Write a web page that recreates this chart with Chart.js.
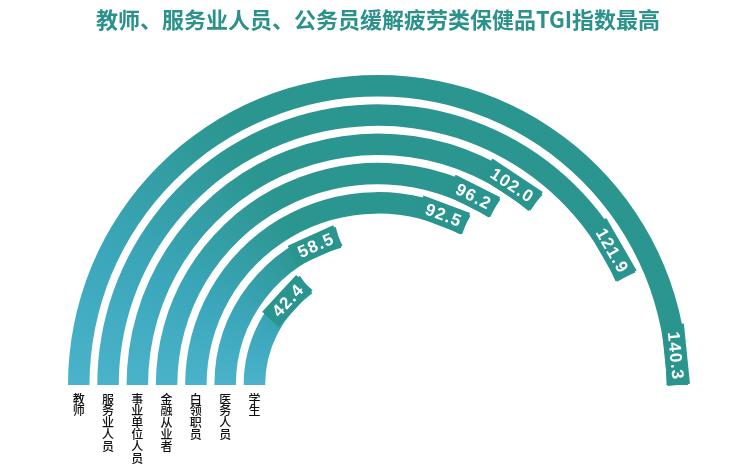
<!DOCTYPE html>
<html lang="zh">
<head>
    <meta charset="UTF-8">
    <title>TGI指数</title>
    <script src="https://cdn.jsdelivr.net/npm/chart.js@4.4.0/dist/chart.umd.min.js"></script>
    <style>
        body {
            margin: 0;
            background: #ffffff;
        }
        .wrap {
            width: 750px;
            height: 468px;
            position: relative;
        }
    </style>
</head>
<body>
    <div class="wrap">
        <canvas id="tgiChart"></canvas>
    </div>

    <script>
        // 数据
        const categories = ['教师', '服务业人员', '事业单位人员', '金融从业者', '白领职员', '医务人员', '学生'];
        const tgiValues = [140.3, 121.9, 102.0, 96.2, 92.5, 58.5, 42.4];
        const titleText = '教师、服务业人员、公务员缓解疲劳类保健品TGI指数最高';

        const scaleMax = Math.max(...tgiValues);
        const ringWeight = 21.5;
        const gapWeight = 7.8;
        const labelColor = '#2a948e';

        // 按角度渐变：左端偏蓝，向上过渡为青绿
        function ringColor(context) {
            if (context.dataIndex !== 0) return 'rgba(0,0,0,0)';
            const chart = context.chart;
            const area = chart.chartArea;
            if (!area) return labelColor;
            const cx = (area.left + area.right) / 2;
            const cy = area.bottom;
            const g = chart.ctx.createConicGradient(Math.PI, cx, cy);
            g.addColorStop(0, '#4ab3cb');
            g.addColorStop(0.07, '#3ca7bb');
            g.addColorStop(0.17, '#2b958f');
            g.addColorStop(1, '#2b948e');
            return g;
        }

        const datasets = [];
        tgiValues.forEach((v, i) => {
            datasets.push({
                label: categories[i],
                data: [v, scaleMax - v],
                backgroundColor: ringColor,
                borderWidth: 0,
                weight: ringWeight,
                isRing: true
            });
            if (i < tgiValues.length - 1) {
                datasets.push({
                    label: '',
                    data: [scaleMax],
                    backgroundColor: 'rgba(0,0,0,0)',
                    borderWidth: 0,
                    weight: gapWeight
                });
            }
        });

        // 数值标签和类别标签
        const ringLabels = {
            id: 'ringLabels',
            afterDatasetsDraw(chart) {
                const ctx = chart.ctx;
                chart.data.datasets.forEach((ds, di) => {
                    if (!ds.isRing) return;
                    const arc = chart.getDatasetMeta(di).data[0];
                    const p = arc.getProps(['x', 'y', 'startAngle', 'endAngle', 'innerRadius', 'outerRadius'], true);
                    const r = (p.innerRadius + p.outerRadius) / 2;
                    const w = p.outerRadius - p.innerRadius + 1;

                    ctx.save();
                    ctx.font = 'bold 17px "Liberation Sans", Arial, sans-serif';
                    ctx.letterSpacing = '1.2px';
                    const txt = ds.data[0].toFixed(1);
                    const tw = ctx.measureText(txt).width;
                    const L = tw + 12;
                    const mid = p.endAngle - (L / 2) / r;
                    ctx.translate(p.x + r * Math.cos(mid), p.y + r * Math.sin(mid));
                    ctx.rotate(mid + Math.PI / 2);
                    ctx.fillStyle = labelColor;
                    ctx.fillRect(-L / 2, -w / 2, L, w);
                    ctx.fillStyle = '#ffffff';
                    ctx.textAlign = 'center';
                    ctx.textBaseline = 'middle';
                    ctx.fillText(txt, 1, 1);
                    ctx.restore();

                    // 竖排类别名
                    ctx.save();
                    ctx.font = '500 12px "Noto Sans CJK SC", sans-serif';
                    ctx.fillStyle = '#111111';
                    ctx.textAlign = 'center';
                    ctx.textBaseline = 'middle';
                    const lx = p.x - r;
                    [...ds.label].forEach((ch, k) => {
                        ctx.fillText(ch, lx, p.y + 14 + k * 11.8);
                    });
                    ctx.restore();
                });
            }
        };

        new Chart(document.getElementById('tgiChart'), {
            type: 'doughnut',
            data: {
                labels: ['值', '余'],
                datasets: datasets
            },
            options: {
                responsive: true,
                maintainAspectRatio: false,
                animation: false,
                rotation: -90,
                circumference: 180,
                cutout: '36.4%',
                layout: {
                    padding: { left: 68, right: 62, top: 0, bottom: 83 }
                },
                plugins: {
                    legend: { display: false },
                    tooltip: { enabled: false },
                    title: {
                        display: true,
                        text: titleText,
                        color: '#2b918b',
                        font: { family: '"Noto Sans CJK SC", sans-serif', size: 22, weight: 'bold', lineHeight: 1.2 },
                        padding: { top: 6, bottom: 42.6 }
                    }
                }
            },
            plugins: [ringLabels]
        });
    </script>
</body>
</html>
